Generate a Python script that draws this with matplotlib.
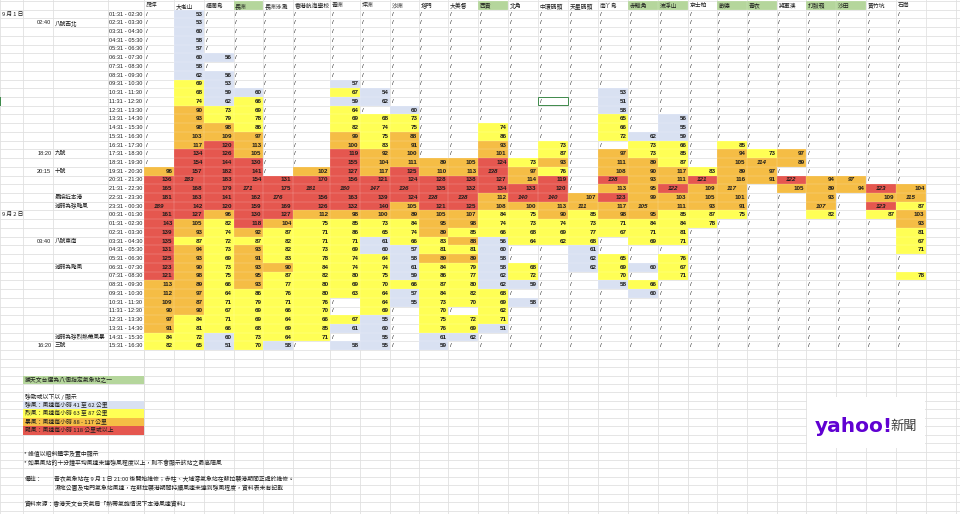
import matplotlib
matplotlib.use("Agg")
import matplotlib.pyplot as plt
from matplotlib.patches import Rectangle

plt.rcParams['font.family'] = ['Noto Sans CJK TC', 'DejaVu Sans']

N = None  # "/" : 強勁或以下

stations = ["昂坪", "大老山", "橫瀾島", "長洲", "長洲泳灘", "香港航海學校", "青洲", "坪洲", "沙洲",
            "塔門", "大美督", "西貢", "北角", "中環碼頭", "天星碼頭", "南丫島", "赤鱲角", "流浮山",
            "京士柏", "啟德", "青衣", "將軍澳", "打鼓嶺", "沙田", "黃竹坑", "石崗"]
key_stations = ["長洲", "西貢", "赤鱲角", "流浮山", "啟德", "青衣", "打鼓嶺", "沙田"]

time_slots = [
    "01:31 - 02:30", "02:31 - 03:30", "03:31 - 04:30", "04:31 - 05:30", "05:31 - 06:30",
    "06:31 - 07:30", "07:31 - 08:30", "08:31 - 09:30", "09:31 - 10:30", "10:31 - 11:30",
    "11:31 - 12:30", "12:31 - 13:30", "13:31 - 14:30", "14:31 - 15:30", "15:31 - 16:30",
    "16:31 - 17:30", "17:31 - 18:30", "18:31 - 19:30", "19:31 - 20:30", "20:31 - 21:30",
    "21:31 - 22:30", "22:31 - 23:30", "23:31 - 00:30", "00:31 - 01:30", "01:31 - 02:30",
    "02:31 - 03:30", "03:31 - 04:30", "04:31 - 05:30", "05:31 - 06:30", "06:31 - 07:30",
    "07:31 - 08:30", "08:31 - 09:30", "09:31 - 10:30", "10:31 - 11:30", "11:31 - 12:30",
    "12:31 - 13:30", "13:31 - 14:30", "14:31 - 15:30", "15:31 - 16:30"]

date_labels = {0: "9 月 1 日", 23: "9 月 2 日"}
signal_times = {1: "02:40", 16: "18:20", 18: "20:15", 26: "03:40", 38: "16:20"}
event_labels = {1: "八號西北", 16: "九號", 18: "十號", 21: "最接近本港", 22: "減弱為強颱風",
                26: "八號東南", 29: "減弱為颱風", 37: "減弱為強烈熱帶風暴", 38: "三號"}

# 每小時最高陣風 (公里/小時)
ngong_ping = [N] * 18 + [96, 136, 165, 181, 189, 161, 143, 139, 135, 131, 125, 123, 121, 113, 112,
                         109, 90, 97, 91, 84, 82]
tate_cairn = [53, 53, 60, 58, 57, 60, 58, 62, 69, 68, 74, 90, 93, 98, 103, 117, 134, 154, 157, 183,
              168, 163, 142, 127, 105, 93, 87, 94, 93, 90, 98, 89, 97, 87, 90, 84, 81, 72, 65]
waglan = [N, N, N, N, N, 56, N, 56, 53, 59, 62, 73, 79, 98, 109, 120, 126, 144, 182, 183, 179, 141,
          120, 96, 82, 74, 72, 73, 69, 73, 75, 66, 64, 71, 67, 71, 66, 60, 51]
cheung_chau = [N] * 9 + [60, 66, 69, 78, 86, 97, 113, 105, 130, 141, 154, 171, 162, 159, 130, 118,
                         92, 87, 93, 91, 93, 95, 93, 86, 79, 69, 69, 68, 73, 70]
cc_beach = [N] * 19 + [131, 175, 176, 169, 127, 104, 87, 82, 82, 83, 90, 87, 77, 76, 71, 66, 64, 69,
                       64, 58]
marine_school = [N] * 18 + [102, 170, 181, 156, 126, 112, 75, 71, 71, 73, 78, 84, 82, 80, 80, 76, 70,
                            66, 85, 71, N]
green_island = [N] * 8 + [57, 67, 59, 64, 69, 82, 99, 100, 119, 155, 127, 156, 180, 163, 132, 98, 85,
                          86, 71, 69, 74, 74, 80, 69, 63, N, N, 67, 61, N, 58]
peng_chau = [N] * 9 + [54, 62, N, 68, 74, 75, 83, 92, 104, 117, 121, 147, 139, 140, 100, 73, 65, 61,
                       60, 64, 74, 75, 70, 64, 64, 69, 55, 60, 55, 55]
sha_chau = [N] * 11 + [60, 73, 75, 88, 91, 100, 111, 125, 124, 136, 124, 105, 89, 84, 74, 66, 57, 58,
                       61, 59, 66, 57, 55] + [N] * 5
tap_mun = [N] * 17 + [89, 110, 128, 135, 138, 121, 105, 95, 89, 83, 81, 89, 84, 86, 87, 84, 73, 70,
                      75, 76, 61, 59]
tai_mei_tuk = [N] * 17 + [105, 113, 138, 132, 138, 125, 107, 98, 85, 88, 81, 89, 79, 77, 80, 82, 70,
                          N, 72, 69, 62, N]
sai_kung = [N] * 13 + [74, 86, 93, 101, 124, 138, 127, 134, 112, 108, 84, 74, 66, 56, 60, 58, 58, 62,
                       62, 68, 69, 62, 71, 51, N, N]
north_point = [N] * 17 + [73, 97, 114, 133, 140, 100, 75, 73, 68, 64, N, N, 68, 72, 59, N, 58] + [N] * 5
central_pier = [N] * 15 + [73, 87, 93, 76, 119, 120, 140, 113, 90, 74, 69, 62] + [N] * 12
star_ferry = [N] * 21 + [107, 111, 85, 73, 77, 68, 61, 62, 62] + [N] * 9
lamma = [N] * 9 + [53, 51, 58, 65, 66, 72, N, 97, 111, 108, 138, 113, 123, 117, 98, 71, 67, N, N, 65,
                   69, 70, 58] + [N] * 7
chek_lap_kok = [N] * 14 + [62, 73, 73, 89, 90, 93, 95, 99, 105, 95, 84, 71, 69, N, N, 60, N, 66,
                           60] + [N] * 6
lau_fau_shan = [N] * 12 + [56, 55, 59, 66, 85, 87, 117, 111, 122, 103, 111, 85, 84, 81, 71, N, 76, 67,
                           71] + [N] * 8
kings_park = [N] * 18 + [83, 121, 109, 105, 93, 87, 78] + [N] * 14
kai_tak = [N] * 15 + [85, 94, 105, 89, 116, 117, 101, 91, 75] + [N] * 15
tsing_yi = [N] * 16 + [73, 114, 97, 91] + [N] * 19
tseung_kwan_o = [N] * 16 + [97, 89, N, 122, 105] + [N] * 18
ta_kwu_ling = [N] * 19 + [94, 89, 93, 107, 82] + [N] * 15
sha_tin = [N] * 19 + [97, 94] + [N] * 18
wong_chuk_hang = [N] * 20 + [123, 109, 123, 87] + [N] * 15
shek_kong = [N] * 20 + [104, 115, 87, 103, 93, 81, 67, 71, N, N, 78] + [N] * 8

gusts = [ngong_ping, tate_cairn, waglan, cheung_chau, cc_beach, marine_school, green_island,
         peng_chau, sha_chau, tap_mun, tai_mei_tuk, sai_kung, north_point, central_pier, star_ferry,
         lamma, chek_lap_kok, lau_fau_shan, kings_park, kai_tak, tsing_yi, tseung_kwan_o,
         ta_kwu_ling, sha_tin, wong_chuk_hang, shek_kong]

# cells coloured differently from the thresholds in the original sheet (row, col) -> level
level_override = {(33, 1): 2, (34, 11): 1, (26, 13): 1}
peak_unmarked = {(19, 2), (19, 10)}

legend_items = ["強風：風速每小時 41 至 62 公里", "烈風：風速每小時 63 至 87 公里",
                "暴風：風速每小時 88 - 117 公里", "颶風：風速每小時 118 公里或以上"]
level_colors = ["#d9e1f2", "#ffff55", "#f5bd45", "#e5574f"]
header_green = "#b5d69c"
grid_color = "#e0e0e0"
ink = "#1c1c1c"


def level_of(v):
    if v <= 62:
        return 0
    if v <= 87:
        return 1
    if v <= 117:
        return 2
    return 3


# layout (pixel space of the 960x514 canvas)
left_edges = [0, 23.3, 53.3, 107.7, 144]
col_edges = [144, 174, 204, 233.5, 263, 293, 330, 360, 390, 419, 448, 478, 508, 538, 568, 598,
             628, 658, 688, 717, 747, 777, 806, 836, 866, 896, 926]
extra_edges = [956]
head_top, row_top, row_h = 1.3, 9.7, 8.73
low_h = 8.45
n_rows = len(time_slots)
table_bottom = row_top + n_rows * row_h

fig = plt.figure(figsize=(9.6, 5.14), dpi=100)
ax = fig.add_axes([0, 0, 1, 1])
ax.set_xlim(0, 960)
ax.set_ylim(514, 0)
ax.axis('off')

# spreadsheet grid
hlines = [head_top, row_top] + [row_top + (i + 1) * row_h for i in range(n_rows)]
y = table_bottom
while y < 514:
    y += low_h
    hlines.append(y)
for yy in hlines:
    ax.plot([0, 960], [yy, yy], color=grid_color, lw=0.6, zorder=0)
for xx in left_edges + col_edges + extra_edges:
    ax.plot([xx, xx], [0, 514], color=grid_color, lw=0.6, zorder=0)


def row_y(r):
    return row_top + r * row_h


num_font = dict(family='Liberation Sans', fontsize=4.5, color=ink, weight='bold')

# header row
for j, name in enumerate(stations):
    x0, x1 = col_edges[j], col_edges[j + 1]
    if name in key_stations:
        ax.add_patch(Rectangle((x0, head_top), x1 - x0, row_top - head_top,
                               facecolor=header_green, edgecolor='none', zorder=1))
    ax.text(x0 + 1.5, (head_top + row_top) / 2 + 0.3, name, fontsize=4.2, color=ink,
            ha='left', va='center', zorder=3)

# left label columns
for r, lab in enumerate(time_slots):
    yc = row_y(r) + row_h / 2
    ax.text(left_edges[3] + 1.5, yc, lab, family='Liberation Sans', fontsize=4.1,
            color=ink, ha='left', va='center', zorder=3)
for r, lab in date_labels.items():
    ax.text(2, row_y(r) + row_h / 2, lab, fontsize=4.1, color=ink, ha='left', va='center')
for r, lab in signal_times.items():
    ax.text(left_edges[2] - 2, row_y(r) + row_h / 2, lab, family='Liberation Sans',
            fontsize=4.1, color=ink, ha='right', va='center')
for r, lab in event_labels.items():
    ax.text(left_edges[2] + 1.5, row_y(r) + row_h / 2, lab, fontsize=4.1, color=ink,
            ha='left', va='center')

# data cells
for j, series in enumerate(gusts):
    x0, x1 = col_edges[j], col_edges[j + 1]
    peak = max(v for v in series if v is not None)
    for r, v in enumerate(series):
        y0 = row_y(r)
        yc = y0 + row_h / 2
        if v is None:
            ax.text(x0 + 1.5, yc, "/", ha='left', va='center', zorder=3,
                    **dict(num_font, weight='normal'))
            continue
        lvl = level_override.get((r, j), level_of(v))
        ax.add_patch(Rectangle((x0, y0), x1 - x0, row_h, facecolor=level_colors[lvl],
                               edgecolor='none', zorder=1))
        if v == peak and (r, j) not in peak_unmarked:
            ax.text((x0 + x1) / 2, yc, str(v), ha='center', va='center', style='italic',
                    zorder=3, **num_font)
        else:
            ax.text(x1 - 1.5, yc, str(v), ha='right', va='center', zorder=3, **num_font)

# faint grid over the coloured cells
for yy in hlines[:n_rows + 2]:
    ax.plot([col_edges[0], col_edges[-1]], [yy, yy], color='white', lw=0.35, alpha=0.35, zorder=2)
for xx in col_edges:
    ax.plot([xx, xx], [head_top, table_bottom], color='white', lw=0.35, alpha=0.35, zorder=2)

# selected cell and row marker
ax.add_patch(Rectangle((col_edges[13] + 0.4, row_y(10) + 0.4), col_edges[14] - col_edges[13] - 0.8,
                       row_h - 0.8, facecolor='none', edgecolor='#3f8a4b', lw=0.7, zorder=4))
ax.add_patch(Rectangle((0, row_y(10)), 1.3, row_h, facecolor='#3f8a4b', edgecolor='none', zorder=4))

# legend block
lx0, lx1 = left_edges[1], left_edges[4]
low_top = table_bottom


def low_y(k):
    return low_top + k * low_h


ax.add_patch(Rectangle((lx0, low_y(3)), lx1 - lx0, low_h, facecolor=header_green,
                       edgecolor='none', zorder=1))
ax.text(lx0 + 1.5, low_y(3) + low_h / 2, "獲天文台選為八個指定氣象站之一", fontsize=4.2,
        color=ink, ha='left', va='center', zorder=3)
ax.text(lx0 + 1.5, low_y(5) + low_h / 2, "強勁或以下以 / 顯示", fontsize=4.2, color=ink,
        ha='left', va='center', zorder=3)
for i, (lab, c) in enumerate(zip(legend_items, level_colors)):
    ax.add_patch(Rectangle((lx0, low_y(6 + i)), lx1 - lx0, low_h, facecolor=c,
                           edgecolor='none', zorder=1))
    ax.text(lx0 + 1.5, low_y(6 + i) + low_h / 2, lab, fontsize=4.2, color=ink,
            ha='left', va='center', zorder=3)

notes = [(24.5, 453.5, "* 峰值以粗斜體字及置中顯示"),
         (24.5, 462.5, "* 如果風站的十分鐘平均風速未達強風程度以上，則不會顯示該站之最高陣風"),
         (25, 478.5, "備註："),
         (54.5, 478.5, "青衣氣象站在 9 月 1 日 21:00 後開始維修；赤柱、大埔滘氣象站在蘇拉襲港期間正處於維修。"),
         (54.5, 488, "濕地公園及屯門氣象站風速，在蘇拉襲港期間持續風速未達到強風程度，資料表未有記載"),
         (25, 504, "資料來源：香港天文台天氣局「熱帶氣旋情況下本港風速資料」")]
for x, yv, t in notes:
    ax.text(x, yv, t, fontsize=4.2, color=ink, ha='left', va='center', zorder=3)

# yahoo news badge
ax.add_patch(Rectangle((807, 397), 118, 51, facecolor='white', edgecolor='none', zorder=5))
ax.text(815, 426, "yahoo!", family='DejaVu Sans', fontsize=14.5, weight='heavy',
        color='#6001d2', ha='left', va='center', zorder=6)
ax.text(917, 426.5, "新聞", fontsize=9.5, color='#3c3c3c', ha='right', va='center', zorder=6)

fig.savefig("out.png", dpi=100)
